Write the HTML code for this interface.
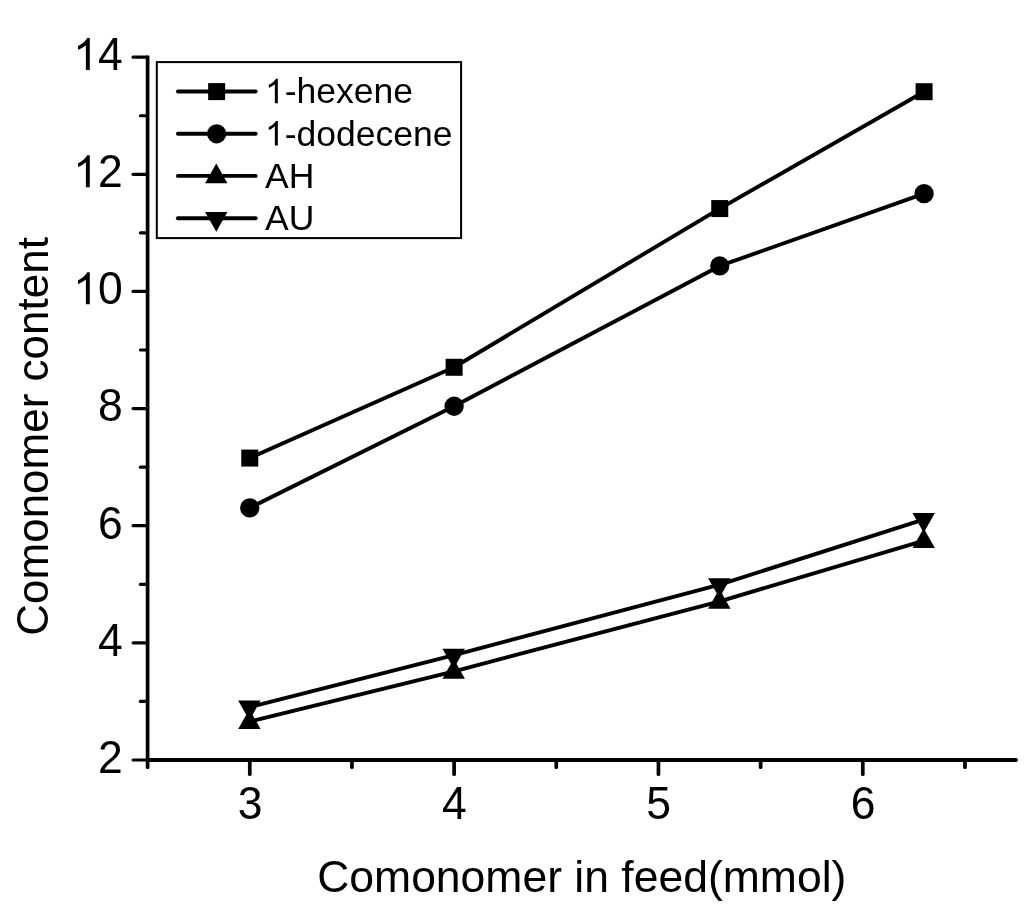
<!DOCTYPE html>
<html><head><meta charset="utf-8"><title>Comonomer content vs feed</title>
<style>
html,body{margin:0;padding:0;background:#fff;}
body{width:1024px;height:910px;overflow:hidden;}
svg{display:block;font-family:"Liberation Sans",sans-serif;will-change:transform;transform:translateZ(0);}
</style></head><body>
<svg width="1024" height="910" viewBox="0 0 1024 910">
<rect width="1024" height="910" fill="#fff"/>
<g stroke="#000" stroke-width="3.8" stroke-linecap="round" fill="none">
<path d="M147.60 55.56V760.00" stroke-linecap="butt" stroke-width="3.7"/>
<path d="M147.70 759.90H1015.9" stroke-width="4"/>
</g>
<g stroke="#000" stroke-width="3.7" stroke-linecap="round" fill="none">
<path d="M133.1 760.00H146.60" stroke-width="3.2"/>
<path d="M140.4 701.43H146.60" stroke-width="3.2"/>
<path d="M133.1 642.86H146.60" stroke-width="3.2"/>
<path d="M140.4 584.29H146.60" stroke-width="3.2"/>
<path d="M133.1 525.72H146.60" stroke-width="3.2"/>
<path d="M140.4 467.15H146.60" stroke-width="3.2"/>
<path d="M133.1 408.58H146.60" stroke-width="3.2"/>
<path d="M140.4 350.01H146.60" stroke-width="3.2"/>
<path d="M133.1 291.44H146.60" stroke-width="3.2"/>
<path d="M140.4 232.87H146.60" stroke-width="3.2"/>
<path d="M133.1 174.30H146.60" stroke-width="3.2"/>
<path d="M140.4 115.73H146.60" stroke-width="3.2"/>
<path d="M133.1 57.16H146.60" stroke-width="3.2"/>
<path d="M147.60 760.50V767.2"/>
<path d="M249.77 760.50V774.2"/>
<path d="M351.94 760.50V767.2"/>
<path d="M454.11 760.50V774.2"/>
<path d="M556.28 760.50V767.2"/>
<path d="M658.45 760.50V774.2"/>
<path d="M760.62 760.50V767.2"/>
<path d="M862.79 760.50V774.2"/>
<path d="M964.96 760.50V767.2"/>
</g>
<g font-size="44.5" fill="#000">
<text transform="translate(122.7 772.90) scale(1 1.035)" text-anchor="end">2</text>
<text transform="translate(122.7 655.76) scale(1 1.035)" text-anchor="end">4</text>
<text transform="translate(122.7 538.62) scale(1 1.035)" text-anchor="end">6</text>
<text transform="translate(122.7 421.48) scale(1 1.035)" text-anchor="end">8</text>
<path d="M763 0H583V1147Q518 1085 412.5 1023T223 930V1104Q374 1175 487 1276T647 1472H763Z" transform="translate(73.20 304.34) scale(0.02173 -0.02173)"/>
<text transform="translate(122.7 304.34) scale(1 1.035)" text-anchor="end">0</text>
<path d="M763 0H583V1147Q518 1085 412.5 1023T223 930V1104Q374 1175 487 1276T647 1472H763Z" transform="translate(73.20 187.20) scale(0.02173 -0.02173)"/>
<text transform="translate(122.7 187.20) scale(1 1.035)" text-anchor="end">2</text>
<path d="M763 0H583V1147Q518 1085 412.5 1023T223 930V1104Q374 1175 487 1276T647 1472H763Z" transform="translate(73.20 70.06) scale(0.02173 -0.02173)"/>
<text transform="translate(122.7 70.06) scale(1 1.035)" text-anchor="end">4</text>
<text transform="translate(250.07 818.6) scale(1 1.035)" text-anchor="middle">3</text>
<text transform="translate(454.41 818.6) scale(1 1.035)" text-anchor="middle">4</text>
<text transform="translate(658.75 818.6) scale(1 1.035)" text-anchor="middle">5</text>
<text transform="translate(863.09 818.6) scale(1 1.035)" text-anchor="middle">6</text>
<text x="581.8" y="891.7" text-anchor="middle">Comonomer in feed(mmol)</text>
<text transform="translate(47.6 436.4) rotate(-90)" text-anchor="middle" font-size="44">Comonomer content</text>
</g>
<g stroke="#000" stroke-width="3.9" fill="none" stroke-linejoin="round" stroke-linecap="round">
<path d="M249.77 458.07 L454.11 367.29 L719.75 208.56 L924.09 91.72"/>
<path d="M249.77 507.86 L454.11 406.24 L719.75 265.96 L924.09 193.63"/>
<path d="M249.77 721.64 L454.11 671.27 L719.75 601.28 L924.09 540.66"/>
<path d="M249.77 706.99 L454.11 655.16 L719.75 584.58 L924.09 519.28"/>
</g>
<g fill="#000">
<rect x="241.27" y="449.57" width="17.00" height="17.00"/>
<rect x="445.61" y="358.79" width="17.00" height="17.00"/>
<rect x="711.25" y="200.06" width="17.00" height="17.00"/>
<rect x="915.59" y="83.22" width="17.00" height="17.00"/>
<circle cx="249.77" cy="507.86" r="9.65"/>
<circle cx="454.11" cy="406.24" r="9.65"/>
<circle cx="719.75" cy="265.96" r="9.65"/>
<circle cx="924.09" cy="193.63" r="9.65"/>
<path d="M238.17 729.04H260.57L249.37 709.14Z"/>
<path d="M442.51 678.67H464.91L453.71 658.77Z"/>
<path d="M708.15 608.68H730.55L719.35 588.78Z"/>
<path d="M912.49 548.06H934.89L923.69 528.16Z"/>
<path d="M238.17 700.59H260.57L249.37 720.49Z"/>
<path d="M442.51 648.76H464.91L453.71 668.66Z"/>
<path d="M708.15 578.18H730.55L719.35 598.08Z"/>
<path d="M912.49 512.88H934.89L923.69 532.78Z"/>
</g>
<rect x="156.8" y="62.1" width="304.3" height="176" fill="#fff" stroke="#000" stroke-width="2"/>
<g stroke="#000" stroke-width="3.9" stroke-linecap="round">
<path d="M177.9 91.5H255.7"/>
<path d="M177.9 133.7H255.7"/>
<path d="M177.9 175.9H255.7"/>
<path d="M177.9 218.3H255.7"/>
</g>
<g fill="#000">
<rect x="208.15" y="83.10" width="17.00" height="17.00"/>
<circle cx="216.65" cy="133.80" r="9.65"/>
<path d="M205.05 183.30H227.45L216.25 163.40Z"/>
<path d="M205.05 211.90H227.45L216.25 231.80Z"/>
</g>
<g font-size="35.5" fill="#000">
<path d="M763 0H583V1147Q518 1085 412.5 1023T223 930V1104Q374 1175 487 1276T647 1472H763Z" transform="translate(265.10 103.30) scale(0.01670 -0.01670)"/>
<text transform="translate(284.75 103.30) scale(1 0.965)">-hexene</text>
<path d="M763 0H583V1147Q518 1085 412.5 1023T223 930V1104Q374 1175 487 1276T647 1472H763Z" transform="translate(265.10 145.50) scale(0.01670 -0.01670)"/>
<text transform="translate(284.75 145.50) scale(1 0.965)">-dodecene</text>
<text x="265" y="187.70">AH</text>
<text x="265" y="230.10">AU</text>
</g>
</svg>
</body></html>
